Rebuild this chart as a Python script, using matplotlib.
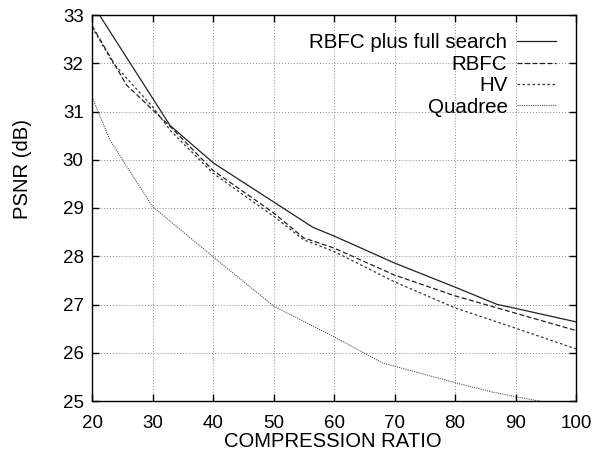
import matplotlib
matplotlib.use("Agg")
import matplotlib.pyplot as plt

plt.rcParams['font.family'] = ['Liberation Sans', 'DejaVu Sans']

full_x = [20, 32.9, 40.1, 56.5, 60, 70, 80, 87, 90, 100]
full_y = [33.24, 30.71, 29.93, 28.6, 28.42, 27.86, 27.36, 27.0, 26.92, 26.64]

rbfc_x = [20, 25.7, 33, 40, 50, 55, 60, 70, 80, 90, 100]
rbfc_y = [32.78, 31.55, 30.68, 29.78, 28.9, 28.38, 28.17, 27.61, 27.18, 26.82, 26.46]

hv_x = [20, 23.5, 30, 33, 40, 50, 55, 60, 70, 80, 90, 100]
hv_y = [32.75, 32.0, 31.1, 30.6, 29.72, 28.83, 28.34, 28.1, 27.47, 26.93, 26.51, 26.08]

quad_x = [20, 23, 30, 40, 50, 60, 68, 80, 86, 90, 100]
quad_y = [31.3, 30.4, 29.03, 27.99, 26.97, 26.33, 25.79, 25.38, 25.19, 25.09, 24.86]

labels = ["RBFC plus full search", "RBFC", "HV", "Quadree"]
xticks = [20, 30, 40, 50, 60, 70, 80, 90, 100]
yticks = [25, 26, 27, 28, 29, 30, 31, 32, 33]

fig = plt.figure(figsize=(6, 4.55), dpi=100)
ax = fig.add_axes([92/600, 1-401/455, (576-92)/600, (401-15)/455])

ax.plot(full_x, full_y, color='#222222', lw=0.9, linestyle='-', label=labels[0])
ax.plot(rbfc_x, rbfc_y, color='#222222', lw=0.9, linestyle=(0, (4, 2)), label=labels[1])
ax.plot(hv_x, hv_y, color='#333333', lw=0.9, linestyle=(0, (2, 2)), label=labels[2])
ax.plot(quad_x, quad_y, color='#555555', lw=0.8, linestyle=(0, (1, 1)), label=labels[3])

ax.set_xlim(20, 100)
ax.set_ylim(25, 33)
ax.set_xticks(xticks)
ax.set_yticks(yticks)
ax.grid(True, color='#888888', linestyle=(0, (1, 2)), lw=0.7)
ax.tick_params(direction='in', length=5, width=1, top=True, right=True,
               labelsize=13.5)
ax.tick_params(axis='x', pad=10)
ax.tick_params(axis='y', pad=6)
for s in ax.spines.values():
    s.set_linewidth(1.0)
    s.set_color('black')

ax.set_xlabel("COMPRESSION RATIO", fontsize=14.6)
ax.set_ylabel("PSNR (dB)", fontsize=14.6)
ax.xaxis.set_label_coords(0.498, -0.080)
ax.yaxis.set_label_coords(-0.124, 0.60)

leg = ax.legend(loc='upper right', bbox_to_anchor=(0.988, 0.99), frameon=False,
                markerfirst=False, fontsize=14.8, handlelength=1.9,
                handletextpad=0.45, labelspacing=0.12, borderaxespad=0.3)

fig.savefig("out.png", dpi=100)
